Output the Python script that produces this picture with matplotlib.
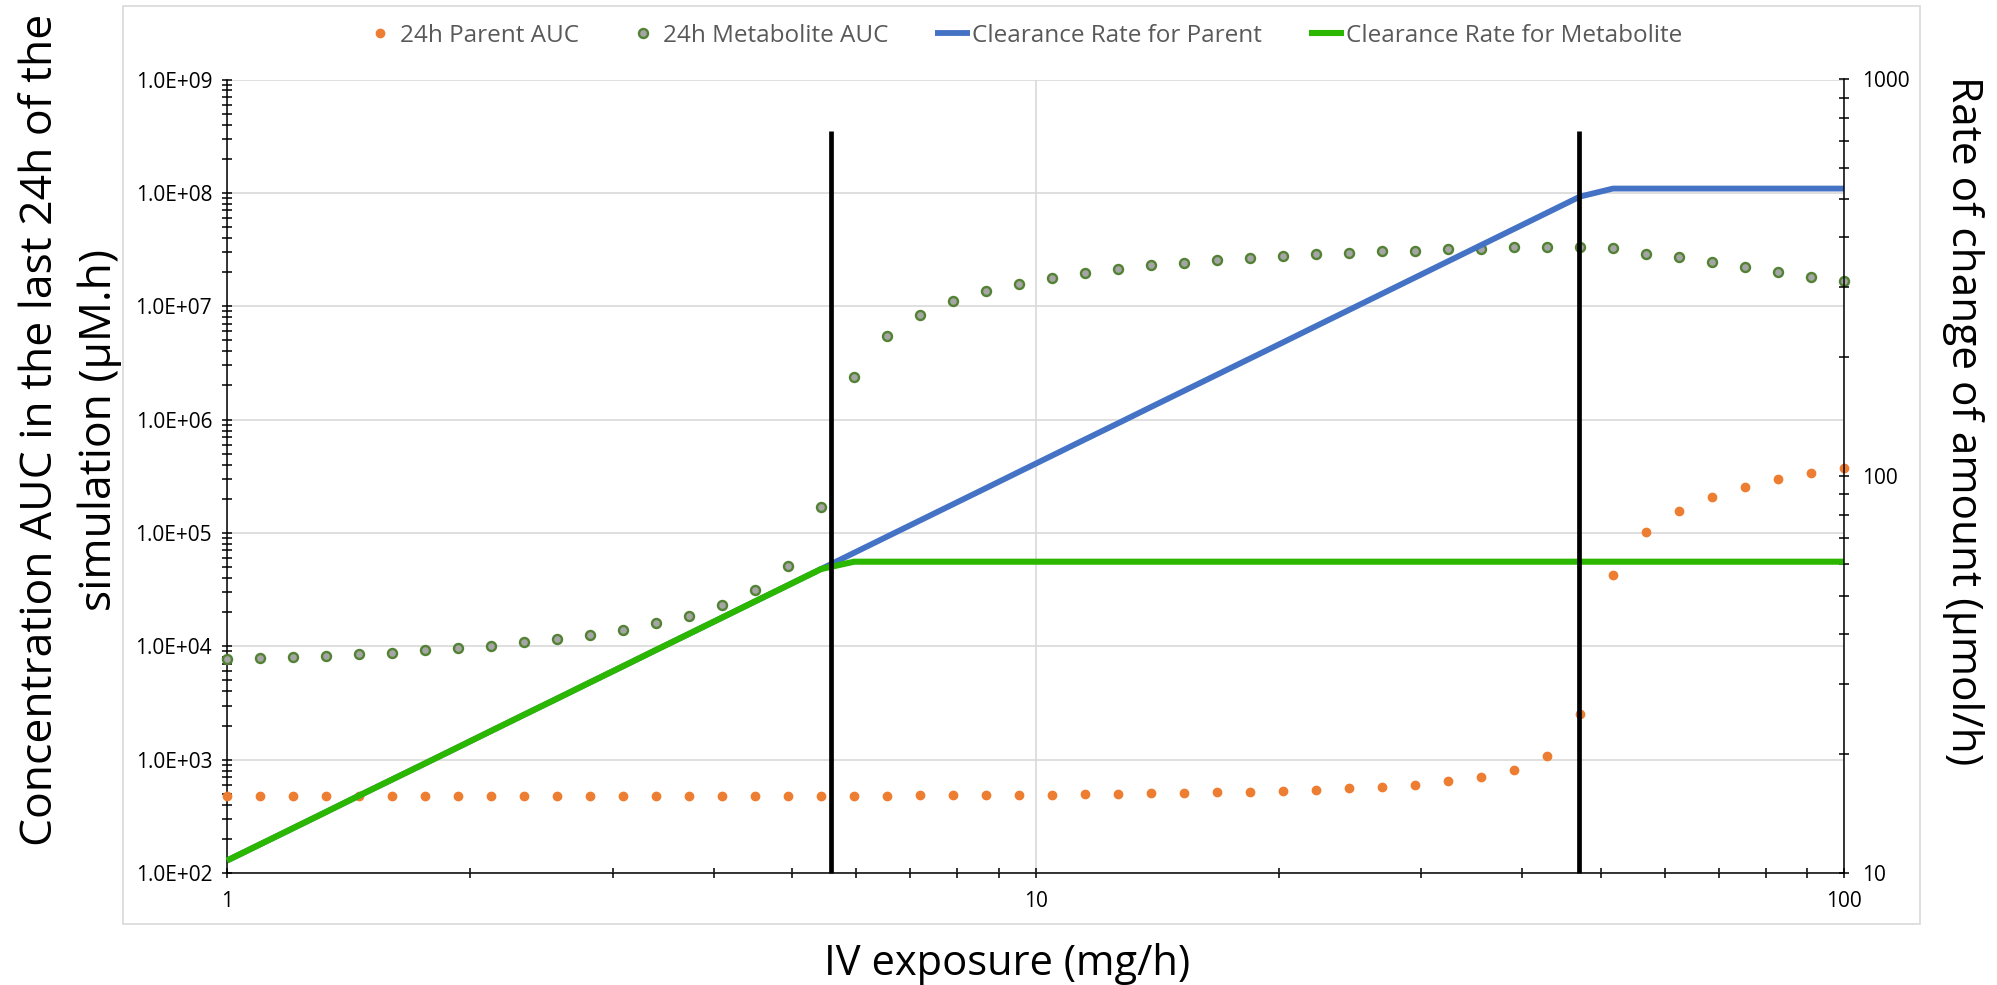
import matplotlib
matplotlib.use('Agg')
import matplotlib.pyplot as plt
from matplotlib.patches import Rectangle
from matplotlib.ticker import LogLocator, FuncFormatter, NullFormatter, FixedLocator

plt.rcParams['font.family'] = ['Open Sans', 'DejaVu Sans']

# IV exposure (mg/h), 50 points from 1 to 100
exposure = [1.000, 1.099, 1.207, 1.326, 1.456, 1.600, 1.758, 1.931, 2.121, 2.330,
            2.560, 2.812, 3.089, 3.393, 3.728, 4.095, 4.498, 4.942, 5.429, 5.964,
            6.551, 7.197, 7.906, 8.685, 9.541, 10.48, 11.51, 12.65, 13.89, 15.26,
            16.77, 18.42, 20.24, 22.23, 24.42, 26.83, 29.47, 32.37, 35.56, 39.07,
            42.92, 47.15, 51.79, 56.90, 62.51, 68.66, 75.43, 82.86, 91.03, 100.0]

parent_auc = [474, 474, 474, 474, 474, 474, 474, 474, 474, 474,
              475, 475, 475, 476, 476, 477, 478, 478, 479, 480,
              481, 483, 485, 487, 489, 492, 495, 499, 503, 509,
              514, 521, 528, 542, 557, 576, 600, 642, 697, 815,
              1067, 2520, 4.25e4, 1.02e5, 1.57e5, 2.09e5, 2.53e5, 3.0e5, 3.39e5, 3.72e5]

metabolite_auc = [7.7e3, 7.9e3, 8.0e3, 8.25e3, 8.5e3, 8.8e3, 9.2e3, 9.6e3, 1.01e4, 1.08e4,
                  1.17e4, 1.26e4, 1.39e4, 1.59e4, 1.86e4, 2.31e4, 3.13e4, 5.16e4, 1.71e5, 2.39e6,
                  5.5e6, 8.4e6, 1.11e7, 1.35e7, 1.56e7, 1.79e7, 1.95e7, 2.15e7, 2.30e7, 2.41e7,
                  2.55e7, 2.67e7, 2.78e7, 2.89e7, 2.97e7, 3.05e7, 3.09e7, 3.20e7, 3.22e7, 3.31e7,
                  3.36e7, 3.36e7, 3.25e7, 2.91e7, 2.69e7, 2.44e7, 2.22e7, 2.02e7, 1.82e7, 1.67e7]

clearance_parent = [10.75, 11.81, 12.97, 14.25, 15.66, 17.20, 18.89, 20.75, 22.80, 25.05,
                    27.51, 30.23, 33.20, 36.48, 40.07, 44.02, 48.36, 53.12, 58.36, 64.11,
                    70.43, 77.37, 84.99, 93.36, 102.6, 112.7, 123.8, 136.0, 149.4, 164.1,
                    180.3, 198.0, 217.5, 239.0, 262.5, 288.4, 316.8, 348.0, 382.3, 420.0,
                    461.4, 506.9, 531, 531, 531, 531, 531, 531, 531, 531]

clearance_metab = [10.75, 11.81, 12.97, 14.25, 15.66, 17.20, 18.89, 20.75, 22.80, 25.05,
                   27.51, 30.23, 33.20, 36.48, 40.07, 44.02, 48.36, 53.12, 58.36, 60.9,
                   60.9, 60.9, 60.9, 60.9, 60.9, 60.9, 60.9, 60.9, 60.9, 60.9,
                   60.9, 60.9, 60.9, 60.9, 60.9, 60.9, 60.9, 60.9, 60.9, 60.9,
                   60.9, 60.9, 60.9, 60.9, 60.9, 60.9, 60.9, 60.9, 60.9, 60.9]

threshold_x = [5.59, 47.0]
threshold_top = 3.5e8

W, H = 1997, 985
fig = plt.figure(figsize=(W / 100, H / 100), dpi=100)
ax = fig.add_axes([227 / W, 1 - 873 / H, (1844 - 227) / W, (873 - 79.5) / H])
ax2 = ax.twinx()

fig.patches.append(Rectangle((123 / W, 1 - 924 / H), (1920 - 123) / W, (924 - 6) / H,
                             transform=fig.transFigure, fill=False, ec='#D9D9D9', lw=1.2))

p1, = ax.plot(exposure, parent_auc, ls='none', marker='o', ms=6, color='#ED7D31',
              mec='#ED7D31', clip_on=False, zorder=3, label='24h Parent AUC')
p2, = ax.plot(exposure, metabolite_auc, ls='none', marker='o', ms=6.5, mfc='#A5A5A5',
              mec='#548235', mew=1.7, clip_on=False, zorder=3, label='24h Metabolite AUC')

l1, = ax2.plot(exposure, clearance_parent, color='#4472C4', lw=4.2, clip_on=False,
               solid_capstyle='butt', label='Clearance Rate for Parent')
l2, = ax2.plot(exposure, clearance_metab, color='#2BB700', lw=4.4, clip_on=False,
               solid_capstyle='butt', label='Clearance Rate for Metabolite')
for xv in threshold_x:
    ax2.plot([xv, xv], [1e2, threshold_top], color='black', lw=3.4, transform=ax.transData,
             clip_on=False, solid_capstyle='butt', zorder=5)

ax.set_xscale('log')
ax.set_yscale('log')
ax.set_xlim(1, 100)
ax.set_ylim(1e2, 1e9)
ax2.set_yscale('log')
ax2.set_ylim(10, 1000)

ax.xaxis.set_major_locator(FixedLocator([1, 10, 100]))
ax.xaxis.set_minor_locator(LogLocator(base=10, subs=range(2, 10)))
ax.xaxis.set_major_formatter(FuncFormatter(lambda v, p: f"{v:g}"))
ax.xaxis.set_minor_formatter(NullFormatter())
ax.yaxis.set_major_locator(LogLocator(base=10, numticks=20))
ax.yaxis.set_minor_locator(LogLocator(base=10, subs=range(2, 10), numticks=20))
ax.yaxis.set_major_formatter(FuncFormatter(lambda v, p: f"{v:.1E}"))
ax.yaxis.set_minor_formatter(NullFormatter())
ax2.yaxis.set_major_locator(FixedLocator([10, 100, 1000]))
ax2.yaxis.set_minor_locator(LogLocator(base=10, subs=range(2, 10), numticks=20))
ax2.yaxis.set_major_formatter(FuncFormatter(lambda v, p: f"{v:g}"))
ax2.yaxis.set_minor_formatter(NullFormatter())

ax.grid(True, which='major', color='#D9D9D9', lw=1.2)
ax.set_axisbelow(True)

for a in (ax, ax2):
    a.spines['top'].set_visible(False)
ax.spines['right'].set_visible(False)
ax2.spines['left'].set_visible(False)
ax2.spines['bottom'].set_visible(False)
ax.spines['left'].set_linewidth(1.1)
ax.spines['bottom'].set_linewidth(1.1)
ax2.spines['right'].set_linewidth(1.1)

ax.tick_params(axis='both', which='both', direction='inout', length=7.5, width=1.1, color='black')
ax.tick_params(axis='x', which='major', pad=9, labelsize=15)
ax.tick_params(axis='y', which='major', pad=7, labelsize=15)
ax2.tick_params(axis='y', which='both', direction='inout', length=7.5, width=1.1, color='black')
ax2.tick_params(axis='y', which='major', pad=9, labelsize=15)

fig.text(1007 / W, 1 - 975 / H, 'IV exposure (mg/h)', ha='center', va='baseline', fontsize=30)
fig.text(52 / W, 1 - 430 / H, 'Concentration AUC in the last 24h of the', rotation=90,
         rotation_mode='anchor', ha='center', va='baseline', fontsize=32)
fig.text(111 / W, 1 - 430 / H, 'simulation (µM.h)', rotation=90,
         rotation_mode='anchor', ha='center', va='baseline', fontsize=32)
fig.text(1952 / W, 1 - 421 / H, 'Rate of change of amount (µmol/h)', rotation=270,
         rotation_mode='anchor', ha='center', va='baseline', fontsize=30.5)

fig.legend([p1, p2, l1, l2], [h.get_label() for h in (p1, p2, l1, l2)],
           loc='center', bbox_to_anchor=(0.512, 1 - 36 / H), ncol=4, frameon=False,
           fontsize=17.5, handlelength=1.45, handletextpad=0.1, columnspacing=1.9,
           labelcolor='#595959', numpoints=1)

fig.savefig('out.png', dpi=100)
